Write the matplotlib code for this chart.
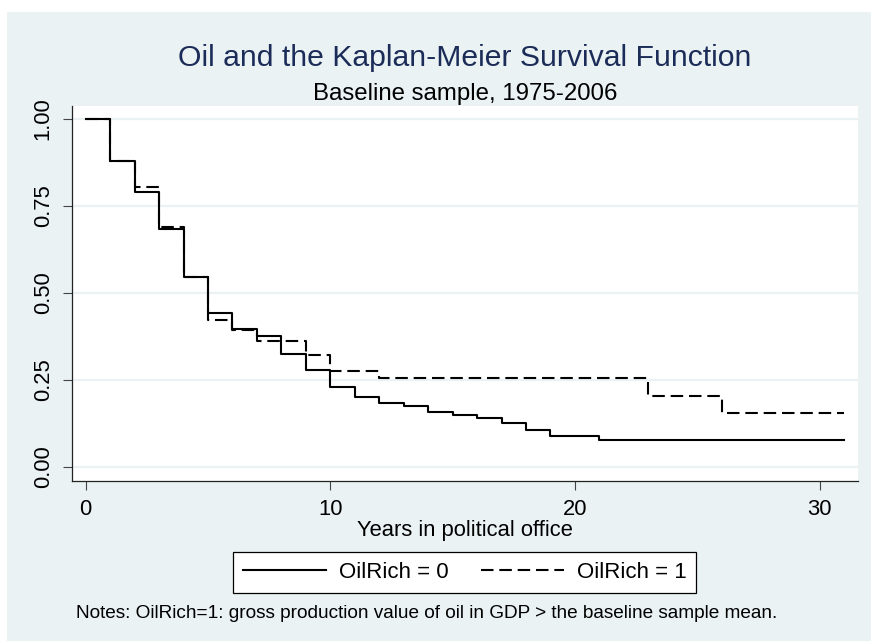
import numpy as np
import matplotlib
matplotlib.use('Agg')
import matplotlib.pyplot as plt
from matplotlib.patches import Rectangle

plt.rcParams['font.family'] = ['Liberation Sans', 'DejaVu Sans']

# Kaplan-Meier estimates
years0 = [0, 1, 2, 3, 4, 5, 6, 7, 8, 9, 10, 11, 12, 13, 14, 15, 16, 17, 18, 19, 21, 31]
surv0 = [1.0, 0.879, 0.789, 0.683, 0.545, 0.441, 0.395, 0.376, 0.323, 0.277, 0.228,
         0.200, 0.183, 0.175, 0.158, 0.148, 0.140, 0.125, 0.106, 0.087, 0.077, 0.077]
years1 = [0, 1, 2, 3, 4, 5, 6, 7, 9, 10, 12, 23, 26, 31]
surv1 = [1.0, 0.88, 0.805, 0.689, 0.545, 0.422, 0.392, 0.361, 0.320, 0.276, 0.254,
         0.203, 0.153, 0.153]
labels = ['OilRich = 0', 'OilRich = 1']
yticks = [0, 0.25, 0.5, 0.75, 1.0]
xticks = [0, 10, 20, 30]

bg = '#EAF2F3'
W, H = 871, 641

fig = plt.figure(figsize=(W/100, H/100), dpi=100)
fig.patch.set_facecolor('white')
# stata style graph region
fig.patches.append(Rectangle((7/W, 0), 1 - 7/W, (H - 12)/H, transform=fig.transFigure,
                             facecolor=bg, edgecolor='none', zorder=-10))

ax = fig.add_axes([71.7/W, 1 - 480.7/H, (858 - 71.7)/W, (480.7 - 106)/H])
ax.set_facecolor('white')
ax.set_zorder(1)

dash = (0, (6, 2.8))
ax.step(years0, surv0, where='post', color='black', lw=1.5, label=labels[0])
ax.step(years1, surv1, where='post', color='black', lw=1.5,
        linestyle=dash, label=labels[1])

ax.set_xlim(-0.572, 31.57)
ax.set_ylim(-0.0403, 1.0374)
ax.set_xticks(xticks)
ax.set_yticks(yticks)
ax.set_yticklabels(['%.2f' % v for v in yticks], rotation=90, va='center')
ax.yaxis.grid(True, color=bg, lw=1.6)
ax.set_axisbelow(True)
for s in ['top', 'right']:
    ax.spines[s].set_visible(False)
for s in ['left', 'bottom']:
    ax.spines[s].set_color('#222222')
    ax.spines[s].set_linewidth(0.9)
ax.tick_params(direction='out', length=6.5, width=0.8, color='#444444',
               labelsize=15.8, pad=6.5)

fig.text(464.7/W, 1 - 66.5/H, 'Oil and the Kaplan-Meier Survival Function',
         ha='center', va='baseline', fontsize=21.7, color='#1c2c58')
fig.text(464.7/W, 1 - 100/H, 'Baseline sample, 1975-2006',
         ha='center', va='baseline', fontsize=17.3, color='black')
fig.text(464.7/W, 1 - 536/H, 'Years in political office',
         ha='center', va='baseline', fontsize=15.8)
fig.text(76/W, 1 - 618.3/H,
         'Notes: OilRich=1: gross production value of oil in GDP > the baseline sample mean.',
         ha='left', va='baseline', fontsize=13.7)

fs = 16
fpx = fs/0.72
leg = fig.legend(loc='center', bbox_to_anchor=(464.7/W, 1 - 572.2/H), ncol=2,
                 fontsize=fs, frameon=True, fancybox=False, edgecolor='black',
                 facecolor='white', framealpha=1, handlelength=83/fpx,
                 handletextpad=13/fpx, columnspacing=32/fpx, borderpad=0.45)
leg.get_frame().set_linewidth(0.9)

fig.savefig('out.png', dpi=100, facecolor=fig.get_facecolor())
